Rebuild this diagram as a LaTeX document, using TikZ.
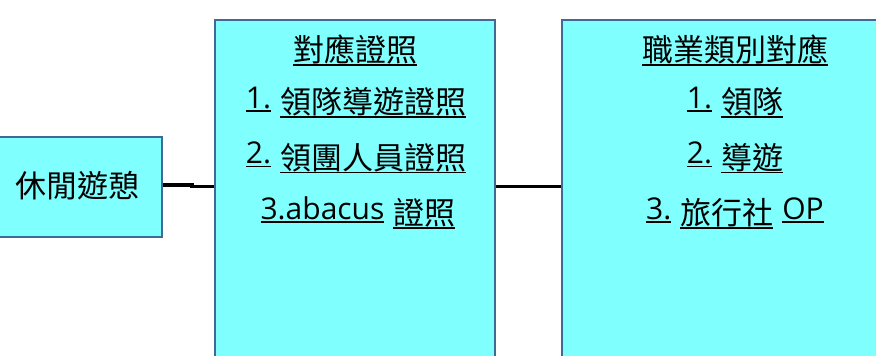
\documentclass[tikz,border=0pt]{standalone}
\usepackage{fontspec}
\setmainfont{Noto Sans CJK TC}
\newfontfamily\latfont{Open Sans}
\definecolor{boxfill}{RGB}{128,255,255}
\definecolor{boxline}{RGB}{65,105,150}
% underline box: #1 text, #2 underline offset below baseline
\newcommand\ulbox[2]{\leavevmode\setbox0\hbox{#1}\rlap{\rule[#2]{\wd0}{1.3pt}}\box0}
\newcommand\ula[1]{{\latfont\fontsize{30}{36}\selectfont\ulbox{#1}{-3.5pt}}}
\newcommand\ucj[1]{\raisebox{-5.5pt}{\ulbox{#1}{-4.2pt}}}
\newcommand\gap{\hspace{9pt}}
\tikzset{
  panel/.style={draw=boxline, fill=boxfill, line width=1.2pt, rectangle, inner sep=0pt},
  txt/.style={anchor=base, inner sep=0pt, font=\fontsize{31}{36}\selectfont, text=black},
  wire/.style={line width=3.6pt, draw=black}
}
\begin{document}
\begin{tikzpicture}[x=1pt,y=-1pt]
\useasboundingbox (0,0) rectangle (876,356);
\clip (0,0) rectangle (876,356);
\node[panel, minimum width=168pt, minimum height=100pt] (leisure) at (78,187) {};
\node[panel, minimum width=280pt, minimum height=380pt] (cert) at (355,210) {};
\node[panel, minimum width=346pt, minimum height=380pt] (job) at (735,210) {};
\node[txt] (l0) at (78,197) {休閒遊憩};
\node[txt] (c0) at (355,56) {\ucj{對應證照}};
\node[txt] (c1) at (356,108) {\ula{1.}\gap\ucj{領隊導遊證照}};
\node[txt] (c2) at (356,163.5) {\ula{2.}\gap\ucj{領團人員證照}};
\node[txt] (c3) at (358,219) {\ula{3.abacus}\gap\ucj{證照}};
\node[txt] (j0) at (735,56) {\ucj{職業類別對應}};
\node[txt] (j1) at (735,108) {\ula{1.}\gap\ucj{領隊}};
\node[txt] (j2) at (735,163.5) {\ula{2.}\gap\ucj{導遊}};
\node[txt] (j3) at (735,219) {\ula{3.}\gap\ucj{旅行社}\gap\ula{OP}};
\coordinate (jogA) at (192,185);
\coordinate (jogB) at (192,186.5);
\draw[wire] (leisure.east |- jogA) -- (jogA) -- (jogB) -- (cert.west |- jogB);
\draw[wire] (cert.east |- jogB) -- (job.west |- jogB);
\end{tikzpicture}
\end{document}
